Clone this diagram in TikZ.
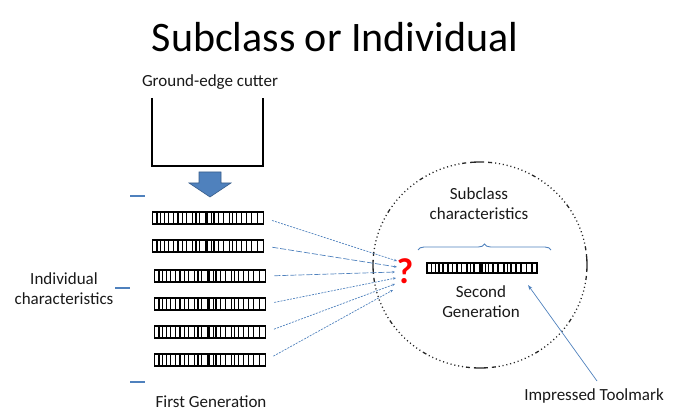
\documentclass[tikz,border=0pt]{standalone}
\usepackage{fontspec}
\setmainfont{Carlito}
\usetikzlibrary{arrows.meta,decorations.pathreplacing}
\definecolor{obl}{RGB}{79,129,189}
\definecolor{obld}{RGB}{56,93,138}
\definecolor{txt}{RGB}{25,25,25}
\begin{document}
\begin{tikzpicture}[x=1pt,y=-1pt,
  lbl/.style={font=\fontsize{17}{20}\selectfont, text=txt, anchor=base, inner sep=0pt, align=center},
  barcode/.style={draw=black, line width=1.8pt, minimum width=#1, minimum height=12pt, inner sep=0pt,
    path picture={
      \coordinate (sw) at (path picture bounding box.south west);
      \foreach \p/\w in {4.5/1.3,8/0.8,12/1.8,16/1.2,21/1.5,25.5/1.8,30/1.2,34/0.8,40/1.5,43.5/1.2,47/1.8,54/3.5,58.5/1,61.5/1.5,66/1.8,71/1.2,77/1.5,80/0.8,84/1.8,89/1.2,94/1.5,99/1,105/1.8}
        \draw[line width=\w pt, black] ([xshift=\p pt]sw) -- ++(0pt,20pt);
    }},
  barcode/.default=111pt,
  conn/.style={draw=obl, line width=0.7pt, dash pattern=on 2pt off 1.2pt, -{Stealth[length=3pt,width=2.5pt]}},
  connl/.style={conn, dash pattern=on 6pt off 2pt},
  tick/.style={draw=obl, line width=1.3pt}
]
\useasboundingbox (0,0) rectangle (678,411);

% title
\node[anchor=base, inner sep=0pt, font=\fontsize{42}{48}\selectfont, text=black] (title) at (335,52) {Subclass or Individual};

% cutter
\node[lbl] (cutlbl) at (210,87) {Ground-edge cutter};
\coordinate (cutA) at (152,98);
\coordinate (cutB) at (152,166);
\coordinate (cutC) at (263,166);
\coordinate (cutD) at (263,98);
\draw[line width=2pt, line join=miter] (cutA) -- (cutB) -- (cutC) -- (cutD);

% blue block arrow
\path[fill=obl, draw=obld, line width=0.6pt] (199,172) -- (221,172) -- (221,183) -- (231,183) -- (210,197) -- (189,183) -- (199,183) -- cycle;

% left ticks
\coordinate (t1a) at (130,196); \coordinate (t1b) at (145,196);
\coordinate (t2a) at (115,288); \coordinate (t2b) at (130,288);
\coordinate (t3a) at (130,382); \coordinate (t3b) at (145,382);
\draw[tick] (t1a) -- (t1b);
\draw[tick] (t2a) -- (t2b);
\draw[tick] (t3a) -- (t3b);

\node[lbl] (indiv) at (64,305) {Individual\\characteristics};

% first generation barcodes
\node[barcode] (bc1) at (208,218) {};
\node[barcode] (bc2) at (208,246) {};
\node[barcode] (bc3) at (210,276) {};
\node[barcode] (bc4) at (210,304) {};
\node[barcode] (bc5) at (210,332) {};
\node[barcode] (bc6) at (210,360) {};
\node[lbl] (firstgen) at (211,408) {First Generation};

% circle
\coordinate (cc) at (480,265);
\path[draw=black!85, line width=1.3pt,
  dash pattern=on 14pt off 4pt on 4pt off 3pt
  on 1.1pt off 2.8pt on 1.1pt off 2.8pt on 1.1pt off 2.8pt on 1.1pt off 2.8pt on 1.1pt off 2.8pt
  on 1.1pt off 2.8pt on 1.1pt off 2.8pt on 1.1pt off 2.8pt on 1.1pt off 2.8pt on 1.1pt off 2.8pt
  on 4pt off 3pt
  on 1.1pt off 2.8pt on 1.1pt off 2.8pt on 1.1pt off 2.8pt on 1.1pt off 2.8pt on 1.1pt off 2.8pt
  on 1.1pt off 2.8pt on 1.1pt off 2.8pt on 1.1pt off 2.8pt on 1.1pt off 2.8pt on 1.1pt off 2.8pt
  on 4pt off 3pt
  on 1.1pt off 2.8pt on 1.1pt off 2.8pt on 1.1pt off 2.8pt on 1.1pt off 2.8pt on 1.1pt off 2.8pt
  on 1.1pt off 2.8pt on 1.1pt off 2.8pt on 1.1pt off 2.8pt on 1.1pt off 2.8pt on 1.1pt off 2.8pt
  on 4pt off 4pt,
  dash phase=7pt] (cc) ellipse [x radius=107, y radius=103];

% connectors to question mark
\coordinate (e1) at (397,261);
\coordinate (e2) at (397,267);
\coordinate (e3) at (395,272);
\coordinate (e4) at (396,278);
\coordinate (e5) at (395,284);
\coordinate (e6) at (393,290);
\draw[conn, shorten <=8pt] (bc1.east) -- (e1);
\draw[connl, shorten <=8pt] (bc2.east) -- (e2);
\draw[connl, shorten <=8pt] (bc3.east) -- (e3);
\draw[conn, shorten <=8pt] (bc4.east) -- (e4);
\draw[conn, shorten <=8pt] (bc5.east) -- (e5);
\draw[conn, shorten <=8pt] (bc6.east) -- (e6);

\node[anchor=base, inner sep=0pt, font=\fontsize{36}{40}\selectfont\bfseries, text=red] (qm) at (405,284) {?};

% subclass
\node[lbl] (subcl) at (479,220) {Subclass\\characteristics};
\coordinate (brL) at (418,250);
\coordinate (brR) at (551,250);
\draw[obl, line width=0.9pt, decorate, decoration={brace, amplitude=6pt}] (brL) -- (brR);

\node[barcode=110pt, minimum height=10pt, line width=1.5pt] (bc7) at (482,268) {};
\node[lbl] (secgen) at (481,318) {Second\\Generation};

% impressed toolmark
\node[lbl] (imp) at (594,401) {Impressed Toolmark};
\coordinate (impS) at (597,381);
\coordinate (impE) at (528,285);
\draw[obl, line width=0.7pt, -{Stealth[length=5pt,width=3.5pt,open]}] (impS) -- (impE);
\end{tikzpicture}
\end{document}
